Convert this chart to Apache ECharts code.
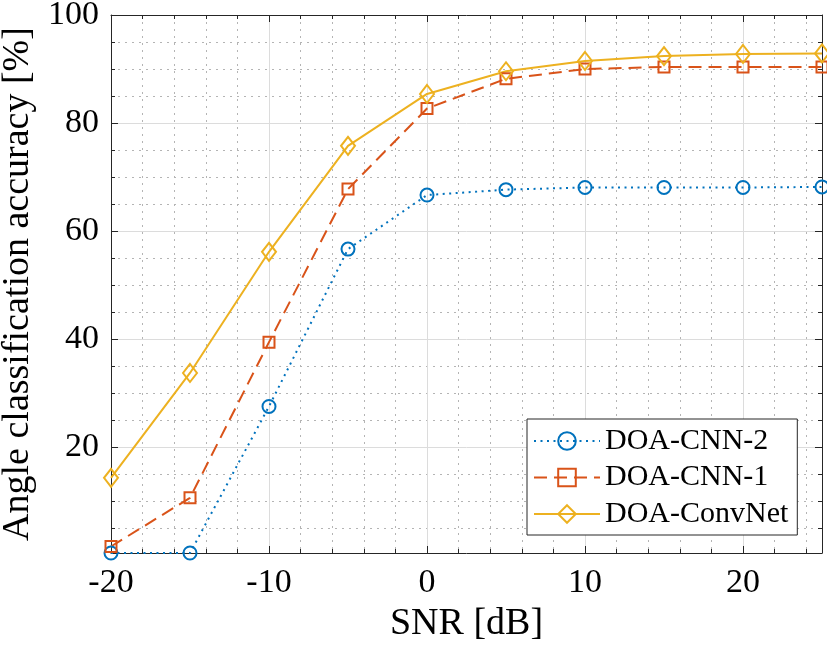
<!DOCTYPE html>
<html>
<head>
<meta charset="utf-8">
<script src="https://cdn.jsdelivr.net/npm/echarts@6/dist/echarts.min.js"></script>
<style>
  html, body { margin: 0; padding: 0; background: #fff; }
  #main { width: 827px; height: 653px; }
</style>
</head>
<body>
<div id="main"></div>
<script>
const snr = [-20, -15, -10, -5, 0, 5, 10, 15, 20, 25];
const cnn2 = [0.5, 0.5, 27.6, 56.7, 66.7, 67.7, 68.1, 68.1, 68.1, 68.2];
const cnn1 = [1.7, 10.7, 39.5, 67.8, 82.7, 88.2, 90.0, 90.4, 90.4, 90.4];
const convNet = [14.4, 33.8, 56.2, 75.8, 85.4, 89.6, 91.5, 92.4, 92.8, 92.9];
const names = ['DOA-CNN-2', 'DOA-CNN-1', 'DOA-ConvNet'];

var font = 'Liberation Serif';
var axisColor = '#262626';
var myChart = echarts.init(document.getElementById('main'));

function pairs (ys) {
  return snr.map((x, i) => [x, ys[i]]);
}

var hidden = { show: false };
var noLine = { show: false, onZero: false };
var minorGrid = {
  show: true, showMinLine: false, showMaxLine: false,
  lineStyle: { color: '#b4b4b4', width: 1, type: [2, 5] }
};
var majorGrid = {
  show: true, showMinLine: false, showMaxLine: false,
  lineStyle: { color: '#dcdcdc', width: 1, type: 'solid' }
};
var boxLine = { show: true, onZero: false, lineStyle: { color: axisColor, width: 1 } };
function ticks (len) {
  return { show: true, inside: true, length: len, lineStyle: { color: axisColor, width: 1 } };
}

function xAx (pos, interval, extra) {
  return Object.assign({
    type: 'value', position: pos, min: -20, max: 25, interval: interval,
    axisLine: noLine, axisTick: hidden, axisLabel: hidden, splitLine: hidden
  }, extra);
}
function yAx (pos, split, extra) {
  return Object.assign({
    type: 'value', position: pos, min: 0.5, max: 100, splitNumber: split,
    axisLine: noLine, axisTick: hidden, axisLabel: hidden, splitLine: hidden
  }, extra);
}

var option = {
  animation: false,
  backgroundColor: '#fff',
  grid: { left: 111, right: 5, top: 15, bottom: 100, containLabel: false, outerBoundsMode: 'none' },
  legend: {
    data: names,
    orient: 'vertical',
    left: 527,
    top: 419,
    padding: [7, 9, 6, 6],
    itemGap: 6.5,
    itemWidth: 66,
    itemHeight: 22,
    backgroundColor: '#fff',
    borderColor: axisColor,
    borderWidth: 1,
    borderRadius: 0,
    textStyle: { fontFamily: font, fontSize: 30, color: '#000' }
  },
  xAxis: [
    xAx('bottom', 2, { splitLine: minorGrid, axisTick: ticks(4) }),
    xAx('top', 2, { axisTick: ticks(4) }),
    xAx('bottom', 10, {
      splitLine: majorGrid, axisLine: boxLine, axisTick: ticks(7),
      axisLabel: {
        show: true, margin: 13, fontFamily: font, fontSize: 34, color: '#000',
        formatter: v => (v % 10 === 0 ? String(v) : '')
      },
      name: 'SNR [dB]', nameLocation: 'middle', nameGap: 40,
      nameTextStyle: { fontFamily: font, fontSize: 38, color: '#000' }
    }),
    xAx('top', 10, { axisLine: boxLine, axisTick: ticks(7) })
  ],
  yAxis: [
    yAx('left', 20, { splitLine: minorGrid, axisTick: ticks(4) }),
    yAx('right', 20, { axisTick: ticks(4) }),
    yAx('left', 5, {
      splitLine: majorGrid, axisLine: boxLine, axisTick: ticks(7),
      axisLabel: {
        show: true, margin: 12, fontFamily: font, fontSize: 34, color: '#000',
        formatter: v => (v % 20 === 0 ? String(v) : '')
      },
      name: 'Angle classification accuracy [%]', nameLocation: 'middle', nameGap: 66,
      nameTextStyle: { fontFamily: font, fontSize: 38, color: '#000' }
    }),
    yAx('right', 5, { axisLine: boxLine, axisTick: ticks(7) })
  ],
  series: [{
    name: names[0],
    type: 'line',
    xAxisIndex: 2,
    yAxisIndex: 2,
    data: pairs(cnn2),
    clip: false,
    symbol: 'circle',
    symbolSize: 13,
    itemStyle: { color: 'rgba(255,255,255,0)', borderColor: '#0072BD', borderWidth: 2 },
    lineStyle: { color: '#0072BD', width: 2, type: [2, 4.5] }
  }, {
    name: names[1],
    type: 'line',
    xAxisIndex: 2,
    yAxisIndex: 2,
    data: pairs(cnn1),
    clip: false,
    symbol: 'rect',
    symbolSize: 11,
    itemStyle: { color: 'rgba(255,255,255,0)', borderColor: '#D95319', borderWidth: 2 },
    lineStyle: { color: '#D95319', width: 2, type: [13, 7] }
  }, {
    name: names[2],
    type: 'line',
    xAxisIndex: 2,
    yAxisIndex: 2,
    data: pairs(convNet),
    clip: false,
    symbol: 'diamond',
    symbolSize: [14, 18],
    itemStyle: { color: 'rgba(255,255,255,0)', borderColor: '#EDB120', borderWidth: 2 },
    lineStyle: { color: '#EDB120', width: 2, type: 'solid' }
  }]
};

myChart.setOption(option);
</script>
</body>
</html>
